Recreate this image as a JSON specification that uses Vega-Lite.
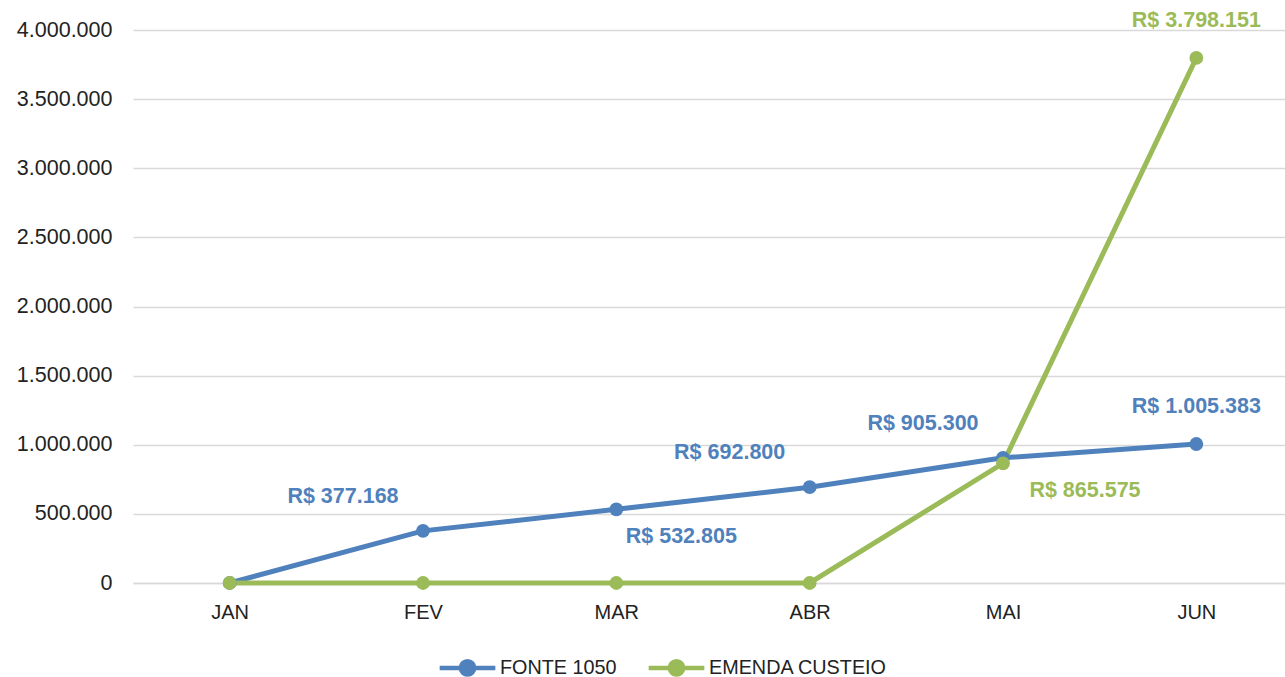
{
  "$schema": "https://vega.github.io/schema/vega-lite/v6.json",
  "autosize": {"type": "none"},
  "width": 1160,
  "height": 553,
  "padding": {"left": 133, "top": 30, "right": 0, "bottom": 94},
  "background": "white",
  "config": {
    "font": "Liberation Sans",
    "view": {"stroke": null}
  },
  "data": {
    "values": [
      {"month": "JAN", "series": "FONTE 1050", "value": 0},
      {"month": "FEV", "series": "FONTE 1050", "value": 377168},
      {"month": "MAR", "series": "FONTE 1050", "value": 532805},
      {"month": "ABR", "series": "FONTE 1050", "value": 692800},
      {"month": "MAI", "series": "FONTE 1050", "value": 905300},
      {"month": "JUN", "series": "FONTE 1050", "value": 1005383},
      {"month": "JAN", "series": "EMENDA CUSTEIO", "value": 0},
      {"month": "FEV", "series": "EMENDA CUSTEIO", "value": 0},
      {"month": "MAR", "series": "EMENDA CUSTEIO", "value": 0},
      {"month": "ABR", "series": "EMENDA CUSTEIO", "value": 0},
      {"month": "MAI", "series": "EMENDA CUSTEIO", "value": 865575},
      {"month": "JUN", "series": "EMENDA CUSTEIO", "value": 3798151}
    ]
  },
  "transform": [
    {"calculate": "'R$ ' + replace(format(datum.value, ',d'), /,/g, '.')", "as": "label"}
  ],
  "encoding": {
    "x": {
      "field": "month", "type": "ordinal", "sort": null,
      "scale": {"type": "point", "padding": 0.5},
      "axis": {"title": null, "labelAngle": 0, "labelFontSize": 20, "labelColor": "#222", "ticks": false, "domain": true, "domainColor": "#d9d9d9", "domainWidth": 1.5, "labelPadding": 19, "grid": false}
    },
    "y": {
      "field": "value", "type": "quantitative",
      "scale": {"domain": [0, 4000000], "nice": false},
      "axis": {"title": null, "values": [0, 500000, 1000000, 1500000, 2000000, 2500000, 3000000, 3500000, 4000000], "labelExpr": "replace(format(datum.value, ',d'), /,/g, '.')", "labelFontSize": 21.5, "labelColor": "#222", "ticks": false, "domain": false, "gridColor": "#d9d9d9", "gridWidth": 1.5, "labelPadding": 21}
    },
    "color": {
      "field": "series", "type": "nominal",
      "scale": {"domain": ["FONTE 1050", "EMENDA CUSTEIO"], "range": ["#4F81BD", "#9BBB59"]},
      "legend": null
    }
  },
  "layer": [
    {
      "mark": {"type": "line", "strokeWidth": 5},
      "encoding": {
        "color": {
          "field": "series", "type": "nominal",
          "scale": {"domain": ["FONTE 1050", "EMENDA CUSTEIO"], "range": ["#4F81BD", "#9BBB59"]},
          "legend": {
            "title": null, "orient": "none", "direction": "horizontal",
            "legendX": 304, "legendY": 607,
            "labelFontSize": 19.8, "labelColor": "#222", "labelOffset": 2, "labelLimit": 400,
            "symbolType": "M-1,0L1,0M-0.24,0A0.24,0.24 0 1 0 0.24,0A0.24,0.24 0 1 0 -0.24,0Z",
            "symbolSize": 3100, "symbolStrokeWidth": 4.5,
            "columnPadding": 22,
            "encode": {"symbols": {"update": {"stroke": {"scale": "color", "field": "value"}, "fill": {"scale": "color", "field": "value"}, "fillOpacity": {"value": 1}, "strokeWidth": {"value": 4.5}}}}
          }
        }
      }
    },
    {
      "mark": {"type": "point", "filled": true, "size": 190, "opacity": 1}
    },
    {
      "transform": [{"filter": "datum.series == 'FONTE 1050' && indexof(['FEV','ABR','MAI'], datum.month) >= 0"}],
      "mark": {"type": "text", "fontWeight": "bold", "fontSize": 21.5, "dx": -80, "dy": -34, "baseline": "middle"},
      "encoding": {"text": {"field": "label", "type": "nominal"}}
    },
    {
      "transform": [{"filter": "datum.series == 'FONTE 1050' && datum.month == 'JUN'"}],
      "mark": {"type": "text", "fontWeight": "bold", "fontSize": 21.5, "dx": 0, "dy": -37, "baseline": "middle"},
      "encoding": {"text": {"field": "label", "type": "nominal"}}
    },
    {
      "transform": [{"filter": "datum.series == 'FONTE 1050' && datum.month == 'MAR'"}],
      "mark": {"type": "text", "fontWeight": "bold", "fontSize": 21.5, "dx": 65, "dy": 28, "baseline": "middle"},
      "encoding": {"text": {"field": "label", "type": "nominal"}}
    },
    {
      "transform": [{"filter": "datum.series == 'EMENDA CUSTEIO' && datum.month == 'MAI'"}],
      "mark": {"type": "text", "fontWeight": "bold", "fontSize": 21.5, "dx": 82, "dy": 28, "baseline": "middle"},
      "encoding": {"text": {"field": "label", "type": "nominal"}}
    },
    {
      "transform": [{"filter": "datum.series == 'EMENDA CUSTEIO' && datum.month == 'JUN'"}],
      "mark": {"type": "text", "fontWeight": "bold", "fontSize": 21.5, "dx": 0, "dy": -37, "baseline": "middle"},
      "encoding": {"text": {"field": "label", "type": "nominal"}}
    }
  ],
  "resolve": {"scale": {"color": "shared"}}
}
